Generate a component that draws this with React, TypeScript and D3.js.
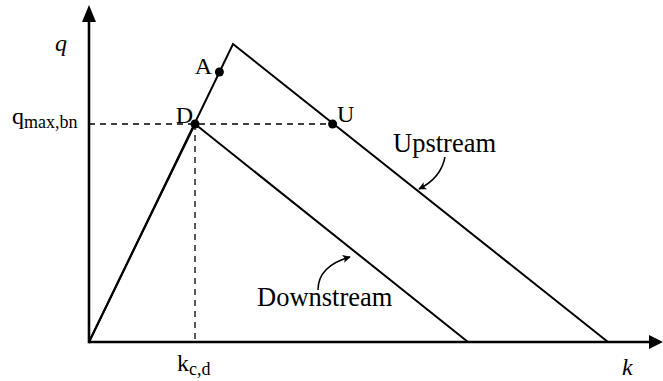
import React from "react";
import * as d3 from "d3";

// Fundamental diagrams (density k vs flow q), piecewise linear triangles
const upstreamK = [0, 36, 129.75];
const upstreamQ = [0, 149, 0];
const downstreamK = [0, 26.5, 94.75];
const downstreamQ = [0, 109, 0];

// Marked states on the diagrams
const pointNames = ["A", "D", "U"];
const pointK = [32.6, 26.5, 60.9];
const pointQ = [135, 109, 109];

// Reference values shown by dashed guides
const qMaxBn = 109;
const kCd = 26.5;

const W = 663;
const H = 381;
const x0 = 89;
const y0 = 342;

const x = d3.scaleLinear().domain([0, 100]).range([x0, x0 + 400]);
const y = d3.scaleLinear().domain([0, 100]).range([y0, y0 - 200]);

const font = "'Liberation Serif', 'Times New Roman', serif";

export default function App() {
  const line = d3
    .line<[number, number]>()
    .x((d) => x(d[0]))
    .y((d) => y(d[1]));
  const up = upstreamK.map((k, i) => [k, upstreamQ[i]] as [number, number]);
  const down = downstreamK.map((k, i) => [k, downstreamQ[i]] as [number, number]);

  const xEnd = 663;
  const yEnd = 5;

  const pD = { x: x(pointK[1]), y: y(pointQ[1]) };
  const pU = { x: x(pointK[2]), y: y(pointQ[2]) };

  return (
    <svg
      width={W}
      height={H}
      style={{ position: "absolute", left: 0, top: 0, background: "#fff" }}
      fontFamily={font}
    >
      <defs>
        <marker
          id="tip"
          viewBox="0 0 10 10"
          refX="9"
          refY="5"
          markerWidth="10"
          markerHeight="8"
          markerUnits="userSpaceOnUse"
          orient="auto"
        >
          <path d="M0,0 L10,5 L0,10 L2.5,5 Z" fill="#000" />
        </marker>
      </defs>

      {/* dashed guides */}
      <line
        x1={x0}
        y1={y(qMaxBn)}
        x2={pU.x}
        y2={y(qMaxBn)}
        stroke="#000"
        strokeWidth={1.3}
        strokeDasharray="6 5"
      />
      <line
        x1={x(kCd)}
        y1={y(qMaxBn)}
        x2={x(kCd)}
        y2={y0}
        stroke="#000"
        strokeWidth={1.3}
        strokeDasharray="6 5"
      />

      {/* diagrams */}
      <path d={line(up) || ""} fill="none" stroke="#000" strokeWidth={2} strokeLinejoin="miter" />
      <path d={line(down) || ""} fill="none" stroke="#000" strokeWidth={2} />

      {/* axes */}
      <line x1={x0} y1={y0} x2={xEnd - 12} y2={y0} stroke="#000" strokeWidth={2.6} />
      <line x1={x0} y1={y0 + 1.3} x2={x0} y2={yEnd + 12} stroke="#000" strokeWidth={2.6} />
      <path d={`M${xEnd},${y0} L${xEnd - 14},${y0 - 7} L${xEnd - 14},${y0 + 7} Z`} fill="#000" />
      <path d={`M${x0},${yEnd} L${x0 - 7},${yEnd + 17} L${x0 + 7},${yEnd + 17} Z`} fill="#000" />

      {/* points */}
      {pointNames.map((n, i) => (
        <circle key={n} cx={x(pointK[i])} cy={y(pointQ[i])} r={4.5} fill="#000" />
      ))}
      <text x={212} y={74} fontSize={24} textAnchor="end">A</text>
      <text x={193} y={123} fontSize={24} textAnchor="end">D</text>
      <text x={337} y={122} fontSize={24}>U</text>

      {/* axis labels */}
      <text x={55} y={51} fontSize={24} fontStyle="italic">q</text>
      <text x={622} y={375} fontSize={24} fontStyle="italic">k</text>
      <text x={12} y={124} fontSize={24}>
        q<tspan fontSize={18} dy={4}>max,bn</tspan>
      </text>
      <text x={177} y={371} fontSize={24}>
        k<tspan fontSize={18} dy={4}>c,d</tspan>
      </text>

      {/* curve labels */}
      <text x={393} y={152} fontSize={26.5}>Upstream</text>
      <path
        d="M445,157 Q441,178 419,189"
        fill="none"
        stroke="#000"
        strokeWidth={1.5}
        markerEnd="url(#tip)"
      />
      <text x={257} y={306} fontSize={26.5}>Downstream</text>
      <path
        d="M318,290 Q318,266 350,257"
        fill="none"
        stroke="#000"
        strokeWidth={1.5}
        markerEnd="url(#tip)"
      />
    </svg>
  );
}
